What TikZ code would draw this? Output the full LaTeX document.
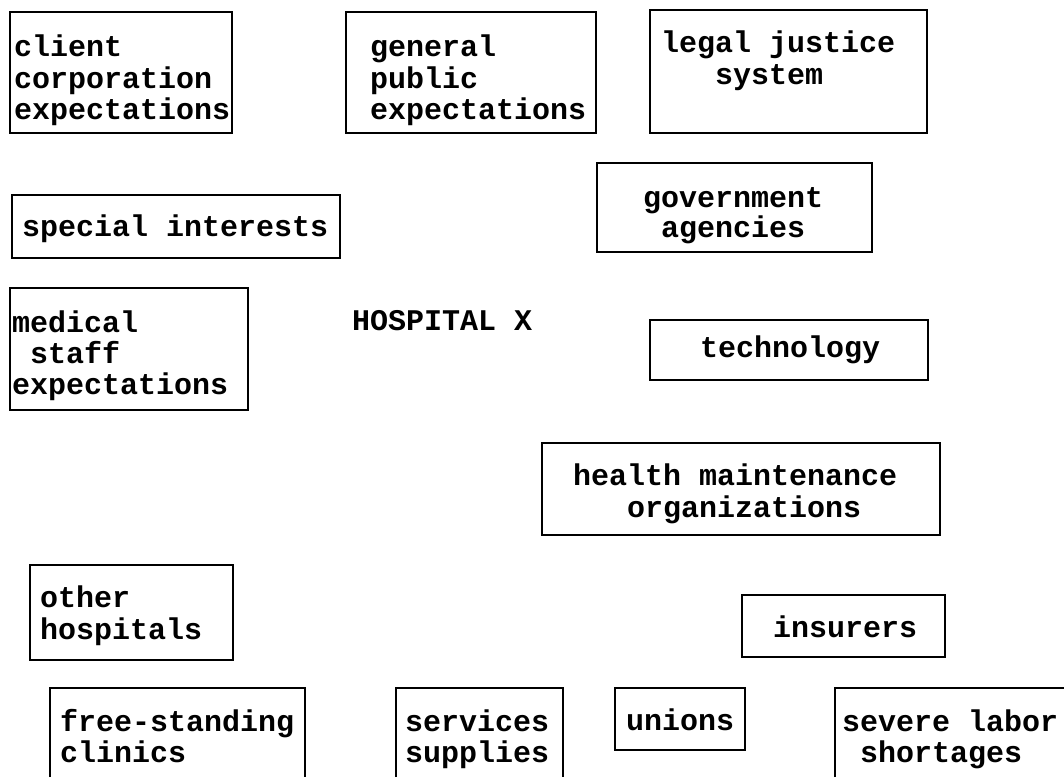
\documentclass[tikz,border=0pt]{standalone}
\usepackage{fontspec}
\newfontfamily\labfont{Liberation Mono}
\begin{document}
\begin{tikzpicture}[x=1pt,y=-1pt,
  lbl/.style={font=\labfont\bfseries\fontsize{30}{32}\selectfont, anchor=base west, inner sep=0pt},
  frame/.style={draw=black, line width=1.6pt}]
\useasboundingbox (0,0) rectangle (1064,777);
% boxes
\draw[frame] (10,12) rectangle (232,133);
\draw[frame] (346,12) rectangle (596,133);
\draw[frame] (650,10) rectangle (927,133);
\draw[frame] (12,195) rectangle (340,258);
\draw[frame] (597,163) rectangle (872,252);
\draw[frame] (10,288) rectangle (248,410);
\draw[frame] (650,320) rectangle (928,380);
\draw[frame] (542,443) rectangle (940,535);
\draw[frame] (30,565) rectangle (233,660);
\draw[frame] (742,595) rectangle (945,657);
\draw[frame] (50,777) -- (50,688) -- (305,688) -- (305,777);
\draw[frame] (396,777) -- (396,688) -- (563,688) -- (563,777);
\draw[frame] (615,688) rectangle (745,750);
\draw[frame] (835,777) -- (835,688) -- (1064,688);
% texts
\node[lbl] (c1) at (14,56) {client};
\node[lbl] (c2) at (14,88) {corporation};
\node[lbl] (c3) at (14,119) {expectations};
\node[lbl] (g1) at (370,56) {general};
\node[lbl] (g2) at (370,88) {public};
\node[lbl] (g3) at (370,119) {expectations};
\node[lbl] (l1) at (661,52) {legal justice};
\node[lbl] (l2) at (715,84) {system};
\node[lbl] (s1) at (22,236) {special interests};
\node[lbl] (v1) at (643,207) {government};
\node[lbl] (v2) at (661,237) {agencies};
\node[lbl] (m1) at (12,332) {medical};
\node[lbl] (m2) at (30,363) {staff};
\node[lbl] (m3) at (12,394) {expectations};
\node[lbl] (hx) at (352,330) {HOSPITAL X};
\node[lbl] (t1) at (700,357) {technology};
\node[lbl] (h1) at (573,485) {health maintenance};
\node[lbl] (h2) at (627,517) {organizations};
\node[lbl] (o1) at (40,607) {other};
\node[lbl] (o2) at (40,639) {hospitals};
\node[lbl] (i1) at (773,637) {insurers};
\node[lbl] (f1) at (60,731) {free-standing};
\node[lbl] (f2) at (60,762) {clinics};
\node[lbl] (p1) at (405,731) {services};
\node[lbl] (p2) at (405,762) {supplies};
\node[lbl] (u1) at (626,730) {unions};
\node[lbl] (w1) at (842,731) {severe labor};
\node[lbl] (w2) at (860,762) {shortages};
\end{tikzpicture}
\end{document}
